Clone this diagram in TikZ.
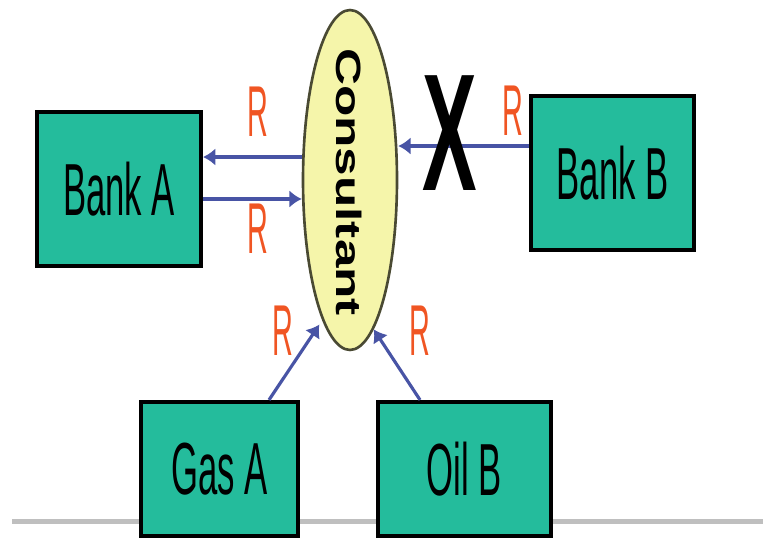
\documentclass[tikz,border=0pt]{standalone}
\usepackage{fontspec}
\setmainfont{Liberation Sans}
\usetikzlibrary{arrows.meta,shapes.geometric}
\begin{document}
\begin{tikzpicture}[x=0.02cm,y=-0.02cm,>={Latex[length=7pt,width=10pt]}]
		%---------------- Colors & styles ----------------
		\definecolor{boxfill}{RGB}{36,188,156}   % teal boxes
		\definecolor{consfill}{RGB}{245,245,170} % pale yellow ellipse
		\definecolor{flowblue}{RGB}{72,84,165}   % arrows
		\definecolor{rred}{RGB}{240,85,35}       % R labels
		\tikzset{
			party/.style={draw=black, line width=2.4pt, fill=boxfill, inner sep=0pt,
				font=\fontsize{42}{42}\selectfont},
			consult/.style={ellipse, draw=black!70!consfill, line width=1.5pt, fill=consfill,
				minimum width=1.88cm, minimum height=6.8cm, inner sep=0pt},
			flow/.style={->, flowblue, line width=2.8pt},
			thinflow/.style={->, flowblue, line width=1.8pt},
			rlabel/.style={rred, font=\fontsize{41}{41}\selectfont, inner sep=0pt},
		}
		\newcommand{\narrow}[2][0.47]{\scalebox{#1}[1]{#2}}
		
		\useasboundingbox (0,0) rectangle (763,537);
		
		%---------------- Base line ----------------
		\draw[line width=2.8pt, black!25] (12,521.5) -- (763,521.5);
		
		%---------------- Parties ----------------
		\node[party, minimum width=3.28cm, minimum height=3.08cm] (bankA) at (119,189) {\narrow{Bank A}};
		\node[party, minimum width=3.26cm, minimum height=3.08cm] (bankB) at (612.5,173) {\narrow{Bank B}};
		\node[party, minimum width=3.14cm, minimum height=2.68cm] (gasA) at (219.5,469) {\narrow{Gas A}};
		\node[party, minimum width=3.46cm, minimum height=2.68cm] (oilB) at (464.5,469) {\narrow{Oil B}};
		
		%---------------- Consultant ----------------
		\node[consult] (cons) at (350,180) {};
		\node[rotate=-90, inner sep=0pt] (consText) at (349,182)
			{\fontsize{20}{20}\selectfont\bfseries\scalebox{1.46}[1]{Consultant}};
		
		%---------------- Arrows ----------------
		\draw[flow] ([yshift=0.64cm]bankA.east -| cons.west) -- ([yshift=0.64cm]bankA.east);
		\draw[flow] ([yshift=-0.2cm]bankA.east) -- ([yshift=-0.2cm]bankA.east -| cons.west);
		\draw[flow] ([yshift=0.54cm]bankB.west) -- ([yshift=0.54cm]bankB.west -| cons.east);
		\draw[thinflow] ([xshift=0.99cm]gasA.north) -- ([yshift=-0.24cm]cons.257);
		\draw[thinflow] ([xshift=-0.89cm]oilB.north) -- (cons.279);
		
		%---------------- Labels ----------------
		\node[rlabel] (rA1) at (258,112) {\narrow[0.4]{R}};
		\node[rlabel] (rA2) at (258,229) {\narrow[0.4]{R}};
		\node[rlabel] (rB) at (513,111) {\narrow[0.4]{R}};
		\node[rlabel] (rG) at (283,331) {\narrow[0.4]{R}};
		\node[rlabel] (rO) at (420,331) {\narrow[0.4]{R}};
		\node[inner sep=0pt, font=\fontsize{95}{95}\selectfont\bfseries] (cross) at (450,133) {\narrow[0.49]{X}};
	\end{tikzpicture}
\end{document}
